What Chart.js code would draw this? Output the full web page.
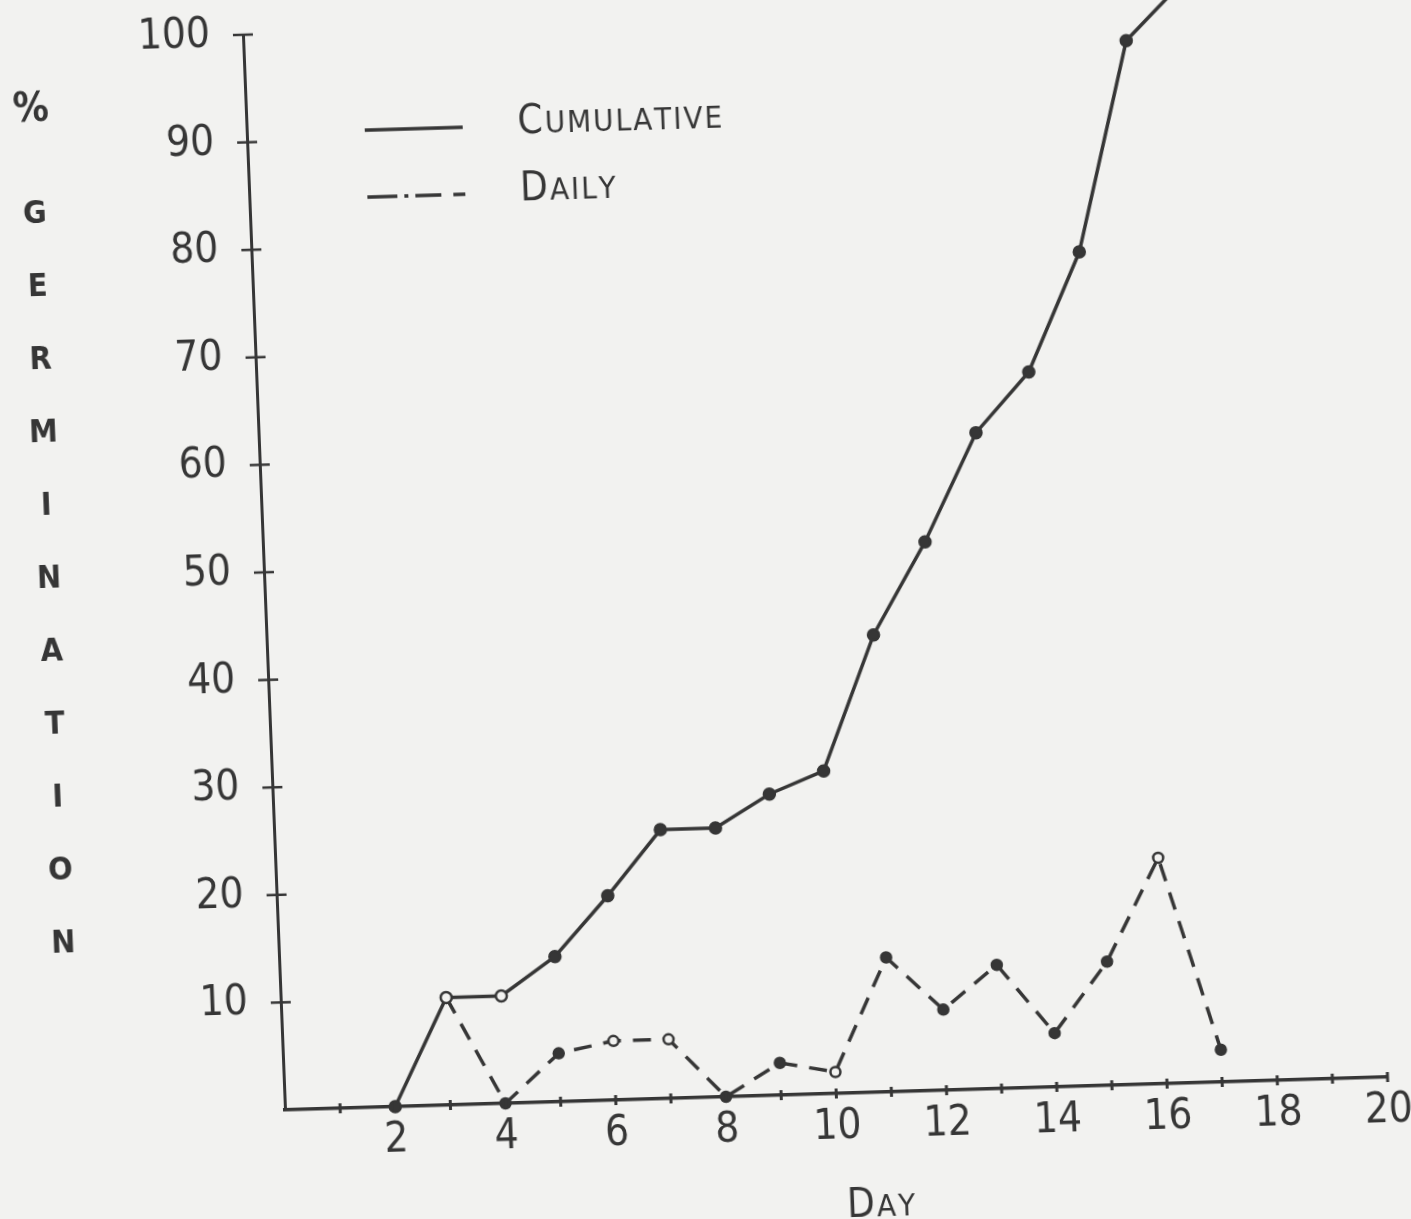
<!DOCTYPE html>
<html>
<head>
<meta charset="utf-8">
<title>% Germination by day</title>
<script src="https://cdn.jsdelivr.net/npm/chart.js@4.4.1/dist/chart.umd.min.js"></script>
<style>
  html, body { margin: 0; padding: 0; }
  body { width: 1411px; height: 1219px; overflow: hidden; background: #f2f2f0; position: relative; }
  /* the scanned figure sits slightly tilted (and a touch sheared) on the page */
  #germChart { position: absolute; left: 0; top: 0; transform-origin: 285px 1110px; transform: rotate(-1.71deg) skewX(0.53deg); }
</style>
</head>
<body>
<canvas id="germChart" width="1411" height="1260"></canvas>
<script>
// values (% germination)
const cumulativeDays = [2, 3, 4, 5, 6, 7, 8, 9, 10, 11, 12, 13, 14, 15, 16, 17];
const cumulative     = [0, 10, 10, 13.5, 19, 25, 25, 28, 30, 42.5, 51, 61, 66.5, 77.5, 97, 102];
const dailyDays      = [3, 4, 5, 6, 7, 8, 9, 10, 11, 12, 13, 14, 15, 16, 17];
const daily          = [10, 0, 4.5, 5.5, 5.5, 0, 3, 2, 12.5, 7.5, 11.5, 5, 11.5, 21, 3];

// axis text
const xLabelDays = [2, 4, 6, 8, 10, 12, 14, 16, 18, 20];
const yTitleLetters = ['%', 'G', 'E', 'R', 'M', 'I', 'N', 'A', 'T', 'I', 'O', 'N'];
const xTitle = 'Day';

// markers drawn hollow in the original
const cumulativeOpenDays = [3, 4];
const dailyOpenDays = [3, 6, 7, 10, 16];

const INK = '#363636';
const PAPER = '#f2f2f0';
const FONT = "'DejaVu Sans Condensed', 'Liberation Sans Narrow', sans-serif";

// first letter of each word full size, the rest as smaller capitals
function drawSmallCaps(ctx, text, x, y, big, small, align) {
    const spacing = 2;
    const parts = text.split('').map((ch, i) => ({
        ch: ch.toUpperCase(),
        size: (i === 0 || text[i - 1] === ' ') ? big : small
    }));
    let total = 0;
    parts.forEach(p => {
        ctx.font = `${p.size}px ${FONT}`;
        p.w = ctx.measureText(p.ch).width;
        total += p.w + spacing;
    });
    total -= spacing;
    let cx = align === 'center' ? x - total / 2 : x;
    ctx.textAlign = 'left';
    ctx.textBaseline = 'alphabetic';
    parts.forEach(p => {
        ctx.font = `${p.size}px ${FONT}`;
        ctx.fillText(p.ch, cx, y);
        cx += p.w + spacing;
    });
}

// ticks crossing the axes, stacked y title, in-plot legend and x title
const paperAxes = {
    id: 'paperAxes',
    afterDraw(chart) {
        const { ctx, chartArea, scales } = chart;
        const { left, top, bottom } = chartArea;
        ctx.save();
        ctx.strokeStyle = INK;
        ctx.fillStyle = INK;
        ctx.lineCap = 'butt';

        // y ticks, both sides of the axis
        ctx.lineWidth = 2.5;
        scales.y.ticks.forEach(t => {
            if (t.value === 0) return;
            const py = scales.y.getPixelForValue(t.value);
            ctx.beginPath();
            ctx.moveTo(left - 10, py);
            ctx.lineTo(left + 10, py);
            ctx.stroke();
        });

        // x ticks, one per day
        ctx.lineWidth = 3;
        scales.x.ticks.forEach(t => {
            if (t.value === 0) return;
            const px = scales.x.getPixelForValue(t.value);
            ctx.beginPath();
            ctx.moveTo(px, bottom - 5);
            ctx.lineTo(px, bottom + 5);
            ctx.stroke();
        });

        // vertical "% GERMINATION"
        ctx.textAlign = 'center';
        ctx.textBaseline = 'middle';
        yTitleLetters.forEach((letter, i) => {
            const ly = i === 0 ? top + 70 : top + 174 + (i - 1) * 73;
            ctx.font = i === 0 ? `bold 40px ${FONT}` : `bold 32px ${FONT}`;
            ctx.fillText(letter, 70, ly);
        });

        // legend (the daily key is drawn as a dash-dot pattern in the original)
        chart.data.datasets.forEach((ds, i) => {
            const ly = top + 99 + i * 67;
            ctx.save();
            ctx.lineWidth = ds.borderWidth;
            ctx.setLineDash(ds.borderDash ? [30, 7, 4, 7, 26, 12, 22] : []);
            ctx.beginPath();
            ctx.moveTo(left + 118, ly);
            ctx.lineTo(left + 216, ly);
            ctx.stroke();
            ctx.restore();
            drawSmallCaps(ctx, ds.label, left + 271, ly + 8, 40, 31, 'left');
        });

        // x title
        drawSmallCaps(ctx, xTitle, left + 592, bottom + 124, 40, 31, 'center');
        ctx.restore();
    }
};

const toPoints = (xs, ys) => xs.map((d, i) => ({ x: d, y: ys[i] }));
const hollow = openDays => c => (c.raw && openDays.includes(c.raw.x)) ? PAPER : INK;

new Chart(document.getElementById('germChart'), {
    type: 'line',
    data: {
        datasets: [{
            label: 'Cumulative',
            data: toPoints(cumulativeDays, cumulative),
            borderColor: INK,
            borderWidth: 3.5,
            pointRadius: 5.5,
            pointBorderWidth: 2.5,
            pointBorderColor: INK,
            pointBackgroundColor: hollow(cumulativeOpenDays),
            tension: 0,
            clip: false
        }, {
            label: 'Daily',
            data: toPoints(dailyDays, daily),
            borderColor: INK,
            borderWidth: 3.5,
            borderDash: [18, 12],
            pointRadius: 5,
            pointBorderWidth: 2.5,
            pointBorderColor: INK,
            pointBackgroundColor: hollow(dailyOpenDays),
            tension: 0,
            clip: false
        }]
    },
    options: {
        responsive: false,
        animation: false,
        layout: { padding: { top: 34, right: 23, left: 0, bottom: 0 } },
        scales: {
            x: {
                type: 'linear',
                min: 0,
                max: 20,
                // fixed box: no extra room reserved for the end labels
                afterFit: s => { s.height = 150; s.paddingLeft = 0; s.paddingRight = 0; },
                grid: { display: false, drawTicks: false },
                border: { display: true, color: INK, width: 3.5 },
                ticks: {
                    stepSize: 1,
                    autoSkip: false,
                    maxRotation: 0,
                    padding: 9,
                    color: INK,
                    font: { family: FONT, size: 42 },
                    callback: v => xLabelDays.includes(v) ? String(v) : ''
                },
                title: { display: false }
            },
            y: {
                min: 0,
                max: 100,
                afterFit: s => { s.width = 285; s.paddingTop = 0; s.paddingBottom = 0; },
                grid: { display: false, drawTicks: false },
                border: { display: true, color: INK, width: 3 },
                ticks: {
                    stepSize: 10,
                    padding: 33,
                    color: INK,
                    font: { family: FONT, size: 42 },
                    callback: v => v === 0 ? '' : String(v)
                },
                title: { display: false }
            }
        },
        plugins: {
            legend: { display: false },
            tooltip: { enabled: false }
        }
    },
    plugins: [paperAxes]
});
</script>
</body>
</html>
